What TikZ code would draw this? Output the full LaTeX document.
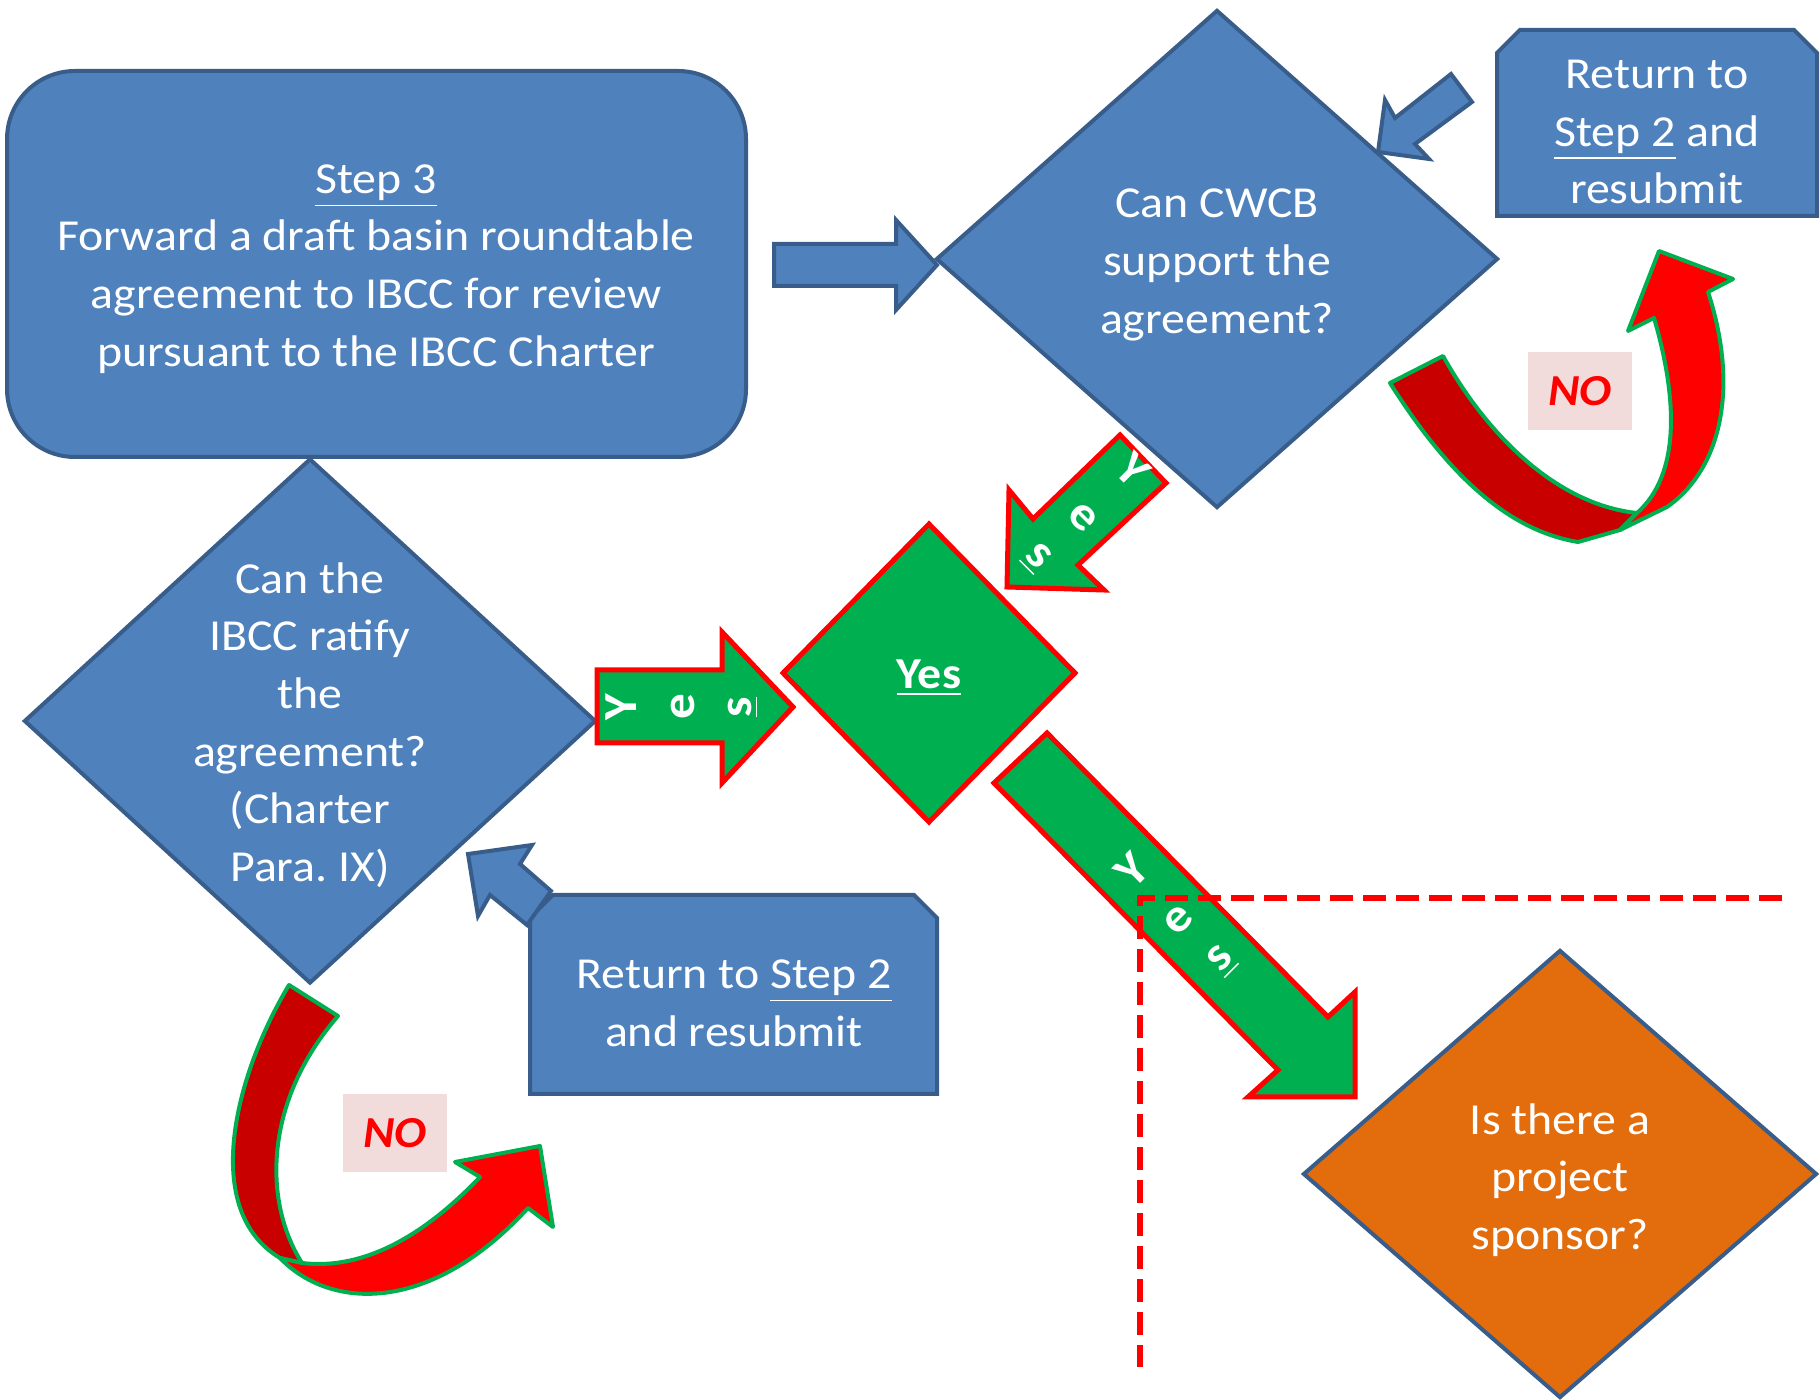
\documentclass[tikz,border=0pt]{standalone}
\usepackage{fontspec}
\setmainfont{Carlito}[FakeStretch=1.08]
\usetikzlibrary{shapes.geometric,shapes.misc}
\definecolor{boxblue}{RGB}{79,129,189}
\definecolor{edgeblue}{RGB}{56,93,138}
\definecolor{okgreen}{RGB}{0,176,80}
\definecolor{darkred}{RGB}{200,0,0}
\definecolor{nopink}{RGB}{242,220,219}
\definecolor{sponsor}{RGB}{227,108,12}

\begin{document}
\begin{tikzpicture}
    [x=0.1mm,y=-0.1mm,
     bluebox/.style={draw=edgeblue,fill=boxblue,line width=0.4mm},
     yesarrow/.style={draw=red,fill=okgreen,line width=0.5mm},
     noarrow/.style={draw=okgreen,line width=0.4mm,line join=round},
     txt/.style={text=white,align=center,inner sep=0,font=\fontsize{12.6}{16.4}\selectfont},
     yesltr/.style={text=white,inner sep=0,font=\fontsize{13.5}{15}\selectfont\bfseries},
     nolabel/.style={fill=nopink,text=red,minimum width=10.4mm,minimum height=7.8mm,font=\fontsize{12.6}{15}\selectfont\bfseries\itshape}]

    \useasboundingbox (0,0) rectangle (1820,1400);

    % curved NO arrows
    \draw[noarrow,fill=darkred] (1390,383) .. controls (1445,470) and (1505,530) .. (1578,542) -- (1620,530) -- (1637,513) .. controls (1560,505) and (1490,440) .. (1443,356) -- cycle;
    \draw[noarrow,fill=red] (1620,530) -- (1667,507) .. controls (1720,470) and (1740,390) .. (1708,292) -- (1733,279) -- (1659,251) -- (1628,331) -- (1654,318) .. controls (1678,400) and (1680,475) .. (1637,513) -- cycle;
    \draw[noarrow,fill=darkred] (289,985) .. controls (235,1075) and (200,1210) .. (280,1258) -- (302,1263) .. controls (262,1200) and (265,1100) .. (338,1016) -- cycle;
    \draw[noarrow,fill=red] (280,1258) .. controls (330,1310) and (430,1315) .. (528,1208) -- (553,1227) -- (540,1146) -- (455,1162) -- (480,1177) .. controls (420,1240) and (360,1270) .. (302,1263) -- cycle;
    \node[nolabel] (no1) at (1580,391) {NO};
    \node[nolabel] (no2) at (395,1133) {NO};

    % boxes and decisions
    \node[rectangle,rounded corners=6.8mm,bluebox,minimum width=73.9mm,minimum height=38.6mm] (step3) at (376.5,264) {};
    \node[diamond,bluebox,inner sep=0,minimum width=56.2mm,minimum height=49.8mm] (cwcb) at (1217,259) {};
    \node[diamond,bluebox,inner sep=0,minimum width=57.2mm,minimum height=52.5mm] (ibcc) at (310,721) {};
    \node[diamond,bluebox,fill=sponsor,inner sep=0,minimum width=51.4mm,minimum height=44.8mm] (sponsor) at (1560,1174) {};
    \node[chamfered rectangle,chamfered rectangle corners={north west,north east},chamfered rectangle xsep=3.1mm,bluebox,minimum width=32mm,minimum height=18.6mm] (back1) at (1657,123) {};
    \node[chamfered rectangle,chamfered rectangle corners={north west,north east},chamfered rectangle xsep=3.3mm,bluebox,minimum width=40.7mm,minimum height=19.9mm] (back2) at (733.5,994.5) {};
    \node[diamond,draw=red,fill=okgreen,line width=0.5mm,inner sep=0,minimum width=29.4mm,minimum height=30mm] (yes) at (929,673) {};

    % blue block arrows
    \draw[bluebox] (774,244) -- (896,244) -- (896,220) -- (937,265) -- (896,310) -- (896,286) -- (774,286) -- cycle;
    \draw[bluebox] (1378,152) -- (1385,100) -- (1395,118) -- (1451,74) -- (1472,102) -- (1415,144) -- (1429,159) -- cycle;
    \draw[bluebox] (468,854) -- (532,845) -- (520,864) -- (551,891) -- (527,925) -- (490,895) -- (478,916) -- cycle;

    % green yes arrows
    \draw[yesarrow] (1120,435) -- (1166,483) -- (1078,565) -- (1104,590) -- (1007,587) -- (1009,490) -- (1033,519) -- cycle;
    \draw[yesarrow] (597,670) -- (722,670) -- (722,632) -- (793,707) -- (722,783) -- (722,743) -- (597,743) -- cycle;
    \draw[yesarrow] (1047,733) -- (1328,1017) -- (1355,992) -- (1355,1097) -- (1248,1097) -- (1278,1070) -- (994,783) -- cycle;

    % texts
    \node[txt] (step3txt) at (376,269) {\underline{Step 3}\\Forward a draft basin roundtable\\agreement to IBCC for review\\pursuant to the IBCC Charter};
    \node[txt] (cwcbtxt) at (1217,265) {Can CWCB\\support the\\agreement?};
    \node[txt] (ibcctxt) at (310,725) {Can the\\IBCC ratify\\the\\agreement?\\(Charter\\Para.\ IX)};
    \node[txt] (sponsortxt) at (1560,1180) {Is there a\\project\\sponsor?};
    \node[txt] (back1txt) at (1657,132) {Return to\\\underline{Step 2} and\\resubmit};
    \node[txt] (back2txt) at (734,1003) {Return to \underline{Step 2}\\and resubmit};
    \node[txt,font=\fontsize{12.6}{15}\selectfont\bfseries] (yestxt) at (929,678) {\underline{Yes}};

    \foreach \ltr/\px/\py [count=\i] in {Y/621/707, e/683/707, {\underline{s}}/743/707}
        \node[yesltr,rotate=90] (yesa\i) at (\px,\py) {\ltr};
    \foreach \ltr/\px/\py [count=\i] in {Y/1133/470, e/1083/517, {\underline{s}}/1036/558}
        \node[yesltr,rotate=-45] (yesb\i) at (\px,\py) {\ltr};
    \foreach \ltr/\px/\py [count=\i] in {Y/1132/870, e/1178/920, {\underline{s}}/1222/961}
        \node[yesltr,rotate=45] (yesc\i) at (\px,\py) {\ltr};

    % dashed boundary
    \draw[red,line width=0.6mm,dash pattern=on 2.3mm off 1mm] (1782,898) -- (1140,898) -- (1140,1367);

\end{tikzpicture}
\end{document}
